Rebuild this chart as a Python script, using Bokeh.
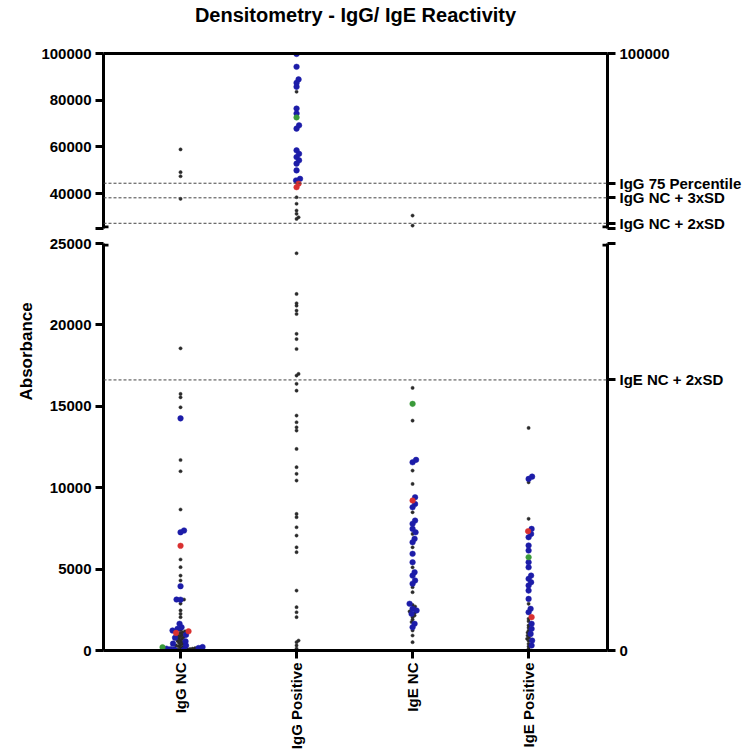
import math
from bokeh.plotting import figure
from bokeh.layouts import column
from bokeh.models import Range1d, FixedTicker, LinearAxis, Span, Title, ColumnDataSource
from bokeh.embed import file_html
from bokeh.resources import INLINE

TITLE = "Densitometry - IgG/ IgE Reactivity"
Y_LABEL = "Absorbance"
CATEGORIES = ["IgG NC", "IgG Positive", "IgE NC", "IgE Positive"]

# ---- data ----
IGG_NC_BLACK = [58900, 49150, 47400, 37700, 18560, 15760, 15550, 14940, 11700, 11010, 8660,
                5590, 5120, 4600, 4300, 3130, 2880, 2460, 2250, 2050, 1250, 1180, 1120, 1060,
                980, 930, 870, 820, 760, 710, 640, 590, 530, 470, 420, 360, 310, 260, 220,
                180, 140, 110, 90, 70, 50, 30]
IGG_NC_BLUE = [14260, 7370, 7260, 3950, 3130, 3120, 1640, 1430, 1330, 1230, 960, 780, 560,
               420, 300, 210, 150, 110, 80, 60, 40]
IGG_NC_RED = [6430, 1180, 1080]
IGG_NC_GREEN = [200]

IGG_POS_BLACK = [83600, 38400, 35600, 32700, 31300, 29800, 29100, 24400, 21900, 21330, 21180,
                 20880, 20670, 19450, 19130, 18520, 16990, 16890, 16380, 15960, 14430, 14020,
                 13710, 13510, 12380, 11260, 10850, 10440, 8390, 8190, 7570, 7060, 6340, 6040,
                 3680, 2660, 2350, 2050, 610, 510, 310, 120]
IGG_POS_BLUE = [99800, 94300, 88900, 87400, 85700, 76400, 74300, 69200, 67800, 58500, 57000,
                55600, 54200, 52800, 49900, 46300, 45600]
IGG_POS_RED = [44200, 42700]
IGG_POS_GREEN = [72600]

IGE_NC_BLACK = [30540, 26240, 16130, 14120, 11050, 10230, 8490, 7160, 6340, 5110, 3890, 3580,
                2800, 2700, 2400, 2300, 2150, 2050, 1900, 1750, 1230, 920, 510]
IGE_NC_BLUE = [11710, 11560, 9410, 9000, 8800, 7980, 7780, 7470, 7260, 6860, 6650, 5940, 5420,
               4810, 4600, 4300, 4100, 2870, 2560, 2460, 2250, 1640, 1430]
IGE_NC_RED = [9210]
IGE_NC_GREEN = [15150]

IGE_POS_BLACK = [13670, 10330, 8090, 2870, 1950, 1800, 1540, 1400, 1230, 1100, 920, 800, 720,
                 600, 410, 250, 100]
IGE_POS_BLUE = [10680, 10540, 7470, 7160, 6960, 6450, 6140, 5420, 5110, 4600, 4400, 4190, 3990,
                3680, 3170, 2560, 2350, 1640, 1330, 1020, 610, 310]
IGE_POS_RED = [7330, 2050]
IGE_POS_GREEN = [5730]

THRESH_TOP = [44400, 38150, 27230]
THRESH_TOP_LABELS = ["IgG 75 Percentile", "IgG NC + 3xSD", "IgG NC + 2xSD"]
THRESH_BOT = [16620]
THRESH_BOT_LABELS = ["IgE NC + 2xSD"]

LEFT_TICKS_TOP = [40000, 60000, 80000, 100000]
LEFT_TICKS_BOT = [0, 5000, 10000, 15000, 20000, 25000]

GROUPS = {
    "black": [IGG_NC_BLACK, IGG_POS_BLACK, IGE_NC_BLACK, IGE_POS_BLACK],
    "blue": [IGG_NC_BLUE, IGG_POS_BLUE, IGE_NC_BLUE, IGE_POS_BLUE],
    "red": [IGG_NC_RED, IGG_POS_RED, IGE_NC_RED, IGE_POS_RED],
    "green": [IGG_NC_GREEN, IGG_POS_GREEN, IGE_NC_GREEN, IGE_POS_GREEN],
}

# ---- style / layout ----
FONT = "Liberation Sans"
COLORS = {"black": "#2a2a2a", "blue": "#1c1ca8", "red": "#d93030", "green": "#3a9a3a"}
SIZES = {"black": 3.2, "blue": 5.6, "red": 5.6, "green": 5.6}
X_START, X_END = -0.664, 3.68
FRAME_W = 504
TOP_H, BOT_H = 175, 407
UPPER = (25000, 100000)
LOWER = (0, 25000)
PX_PER_X = FRAME_W / (X_END - X_START)
PER_PX_TOP = (UPPER[1] - UPPER[0]) / TOP_H
PER_PX_BOT = (LOWER[1] - LOWER[0]) / BOT_H


def candidates():
    yield 0.0
    k = 1
    while True:
        yield k * 0.5
        yield -k * 0.5
        k += 1


def swarm(vals, sizes, per_px):
    order = sorted(range(len(vals)), key=lambda i: vals[i])
    placed = []
    offs = [0.0] * len(vals)
    for i in order:
        y = vals[i] / per_px
        r = sizes[i] / 2
        for dx in candidates():
            if all(math.hypot(dx - px_, y - py_) >= (r + pr) * 0.7 for px_, py_, pr in placed):
                break
        placed.append((dx, y, r))
        offs[i] = dx / PX_PER_X
    return offs


# compute positions
pts = {seg: {g: {"x": [], "y": []} for g in GROUPS} for seg in ("top", "bot")}
for ci in range(len(CATEGORIES)):
    for seg in ("top", "bot"):
        vals, sizes, keys = [], [], []
        for g, lists in GROUPS.items():
            for v in lists[ci]:
                in_top = v >= UPPER[0]
                if (seg == "top") == in_top:
                    vals.append(v)
                    sizes.append(SIZES[g])
                    keys.append(g)
        if not vals:
            continue
        offs = swarm(vals, sizes, PER_PX_TOP if seg == "top" else PER_PX_BOT)
        for v, o, g in zip(vals, offs, keys):
            pts[seg][g]["x"].append(ci + o)
            pts[seg][g]["y"].append(v)


def style_axis(ax, ticks, labels):
    ax.ticker = FixedTicker(ticks=ticks)
    ax.major_label_overrides = {t: l for t, l in zip(ticks, labels)}
    ax.minor_tick_line_color = None
    ax.axis_line_width = 3
    ax.axis_line_color = "black"
    ax.major_tick_line_width = 3
    ax.major_tick_line_color = "black"
    ax.major_tick_out = 8
    ax.major_tick_in = 0
    ax.major_label_text_font = FONT
    ax.major_label_text_font_style = "bold"
    ax.major_label_text_font_size = "15px"
    ax.major_label_text_color = "black"
    ax.major_label_standoff = 4


xr = Range1d(X_START, X_END)
common = dict(frame_width=FRAME_W, x_range=xr, output_backend="svg", toolbar_location=None,
              min_border_left=103, min_border_right=136, outline_line_color=None,
              background_fill_color="white", border_fill_color="white")

p1 = figure(frame_height=TOP_H, y_range=Range1d(*UPPER), x_axis_location=None,
            y_axis_location="left", min_border_top=53, min_border_bottom=7, title=TITLE, **common)
p2 = figure(frame_height=BOT_H, y_range=Range1d(*LOWER), x_axis_location="below",
            y_axis_location="left", min_border_top=8, min_border_bottom=99, **common)

p1.title.text_font = FONT
p1.title.text_font_style = "bold"
p1.title.text_font_size = "20px"
p1.title.align = "center"
p1.title.text_color = "black"
p1.title.standoff = 2

for p in (p1, p2):
    p.xgrid.visible = False
    p.ygrid.visible = False

# left axes
style_axis(p1.yaxis[0], [UPPER[0]] + LEFT_TICKS_TOP, [""] + [str(t) for t in LEFT_TICKS_TOP])
style_axis(p2.yaxis[0], LEFT_TICKS_BOT, [str(t) for t in LEFT_TICKS_BOT])

# right axes
r1 = LinearAxis()
style_axis(r1, [UPPER[0]] + THRESH_TOP + [UPPER[1]], [""] + THRESH_TOP_LABELS + [str(UPPER[1])])
p1.add_layout(r1, "right")
r2 = LinearAxis()
style_axis(r2, [LOWER[0]] + THRESH_BOT + [LOWER[1]], [str(LOWER[0])] + THRESH_BOT_LABELS + [""])
p2.add_layout(r2, "right")

# top border line (its empty label keeps the title clear of the frame)
a1 = LinearAxis()
style_axis(a1, [], [])
a1.major_label_text_font_size = "0px"
a1.major_tick_line_color = None
a1.axis_label = "\u00a0"
a1.axis_label_text_font_size = "12px"
a1.axis_label_standoff = 10
p1.add_layout(a1, "above")

# category axis
style_axis(p2.xaxis[0], list(range(len(CATEGORIES))), CATEGORIES)
p2.xaxis[0].major_label_orientation = math.pi / 2

# inner halves of the axis-break caps (the outer halves are the axis ticks)
CAP = 5 / PX_PER_X
cap_top_y = UPPER[0] + 1.5 * PER_PX_TOP
cap_bot_y = LOWER[1] - 1.5 * PER_PX_BOT
p1.segment(x0=[X_START, X_END - CAP], x1=[X_START + CAP, X_END], y0=[cap_top_y] * 2,
           y1=[cap_top_y] * 2, line_color="black", line_width=3)
p2.segment(x0=[X_START, X_END - CAP], x1=[X_START + CAP, X_END], y0=[cap_bot_y] * 2,
           y1=[cap_bot_y] * 2, line_color="black", line_width=3)

# threshold lines
for v in THRESH_TOP:
    p1.add_layout(Span(location=v, dimension="width", line_color="#444444", line_width=1,
                       line_dash="3 2"))
for v in THRESH_BOT:
    p2.add_layout(Span(location=v, dimension="width", line_color="#444444", line_width=1,
                       line_dash="3 2"))

# points
for seg, p in (("top", p1), ("bot", p2)):
    for g in ("black", "blue", "red", "green"):
        d = pts[seg][g]
        if not d["x"]:
            continue
        src = ColumnDataSource(data=dict(x=d["x"], y=d["y"]))
        p.scatter("x", "y", source=src, size=SIZES[g], fill_color=COLORS[g],
                  line_color=COLORS[g], line_width=0.5)

# y-axis title, shifted so it is centred on the whole broken axis
ytitle = Title(text=Y_LABEL, align="left", offset=250, standoff=22, text_font=FONT,
               text_font_style="bold", text_font_size="17px", text_color="black")
p2.add_layout(ytitle, "left")

layout = column(p1, p2, spacing=0)
open("out.html", "w").write(file_html(layout, INLINE))
